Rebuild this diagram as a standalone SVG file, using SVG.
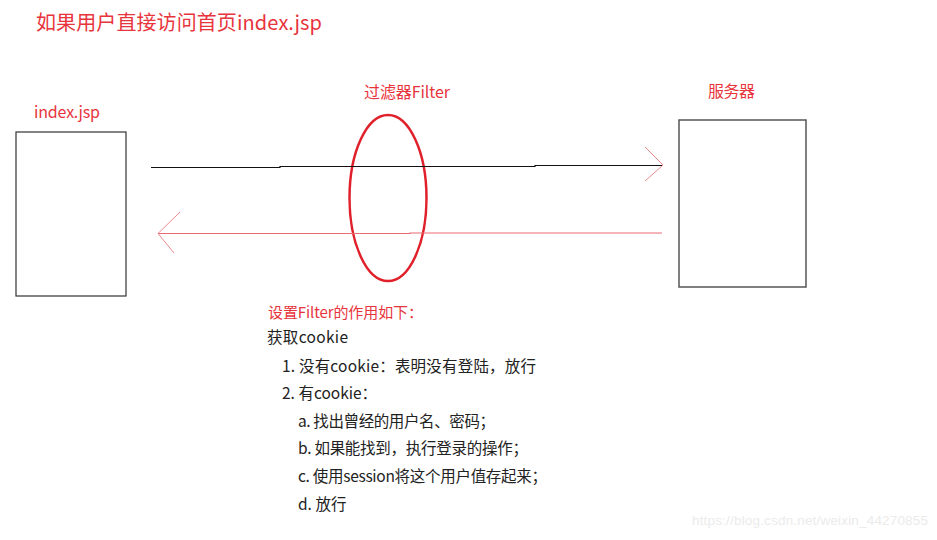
<svg xmlns="http://www.w3.org/2000/svg" width="937" height="540" viewBox="0 0 937 540">
<style>
.red{fill:#e8343c;font-family:"Noto Sans CJK SC","Noto Sans",sans-serif}
.blk{fill:#222;font-family:"Noto Sans CJK SC","Noto Sans",sans-serif;font-size:15.5px}
.box{fill:#fff;stroke:#333;stroke-width:1.2}
.head{fill:none;stroke:#ea8a90;stroke-width:1}
</style>
<rect width="937" height="540" fill="#fff"/>
<text class="red" x="36" y="30" font-size="20" textLength="286">如果用户直接访问首页index.jsp</text>
<g id="node-index">
<text class="red" x="34" y="118" font-size="16" textLength="66">index.jsp</text>
<rect class="box" x="16" y="132" width="110" height="164"/>
</g>
<g id="node-server">
<text class="red" x="708" y="97" font-size="16" textLength="47">服务器</text>
<rect class="box" x="679" y="120" width="127" height="167" style="stroke:#555;stroke-width:1.5"/>
</g>
<g id="node-filter">
<text class="red" x="364" y="98" font-size="16" textLength="86">过滤器Filter</text>
<ellipse cx="388" cy="198" rx="38.5" ry="83" fill="none" stroke="#e0202a" stroke-width="2.5"/>
</g>
<g id="connectors">
<path d="M151 167.5 H280 V166.5 H535 V165.5 H662" fill="none" stroke="#111" stroke-width="1.2"/>
<polyline class="head" points="645,147 663,165 645,181"/>
<path d="M158 233.5 H410 V233 H662" fill="none" stroke="#ec6a72" stroke-width="1.2"/>
<polyline class="head" points="180,212 158,233.5 174,253"/>
</g>
<g id="notes">
<text class="red" x="268" y="318" font-size="15" textLength="155">设置Filter的作用如下：</text>
<text class="blk" x="267" y="343" textLength="81">获取cookie</text>
<text class="blk" x="282" y="372" textLength="254">1. 没有cookie：表明没有登陆，放行</text>
<text class="blk" x="282" y="399">2. 有cookie：</text>
<text class="blk" x="298" y="427" textLength="197">a. 找出曾经的用户名、密码；</text>
<text class="blk" x="298" y="454" textLength="230">b. 如果能找到，执行登录的操作；</text>
<text class="blk" x="298" y="482" textLength="249">c. 使用session将这个用户值存起来；</text>
<text class="blk" x="298" y="510">d. 放行</text>
</g>
<text x="692" y="525" font-family="Liberation Sans, Arial, sans-serif" font-size="13.5" fill="#ebebeb" textLength="236">https://blog.csdn.net/weixin_44270855</text>
</svg>
